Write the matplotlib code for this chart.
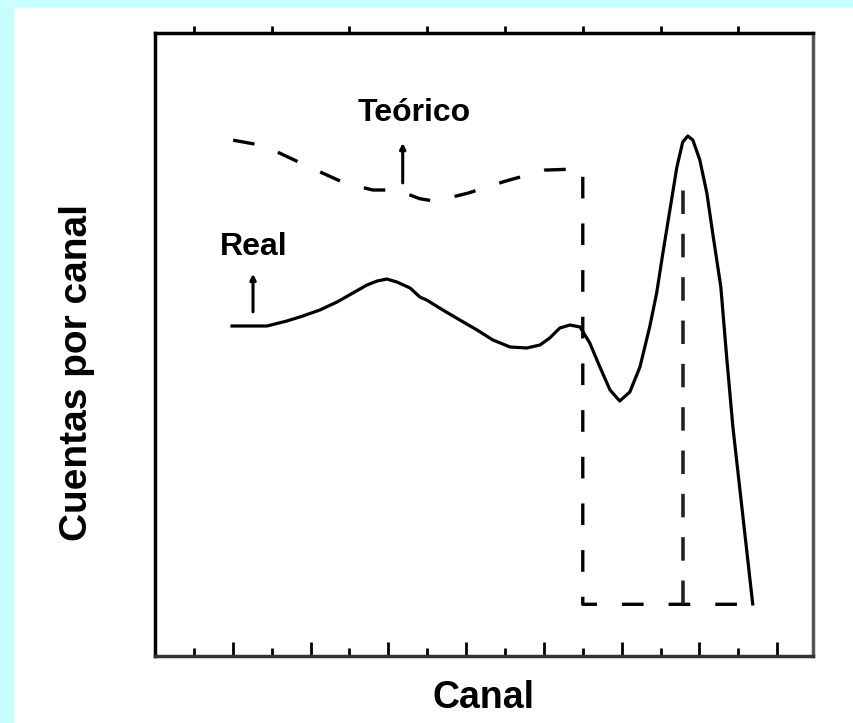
import matplotlib
matplotlib.use('Agg')
import matplotlib.pyplot as plt
from matplotlib.patches import Rectangle

# espectro real (canal, cuentas)
real_x = [1.98, 2.88, 3.39, 3.80, 4.24, 4.68, 5.09, 5.45, 5.71, 5.96, 6.22, 6.56,
          6.81, 6.99, 7.40, 7.84, 8.28, 8.69, 9.13, 9.56, 9.90, 10.15, 10.41,
          10.67, 10.93, 11.18, 11.44, 11.70, 11.95, 12.21, 12.47, 12.72, 12.90,
          13.06, 13.24, 13.42, 13.57, 13.70, 13.83, 14.01, 14.19, 14.34, 14.55,
          14.70, 14.86, 15.37]
real_y = [52.97, 52.97, 53.77, 54.57, 55.54, 56.82, 58.27, 59.55, 60.19, 60.51,
          60.03, 59.07, 57.62, 57.13, 55.54, 53.93, 52.33, 50.72, 49.60, 49.44,
          49.92, 51.04, 52.65, 53.13, 52.81, 50.24, 46.39, 42.70, 40.93, 42.38,
          46.39, 52.81, 58.27, 64.69, 71.59, 78.49, 82.50, 83.47, 82.83, 79.61,
          74.32, 67.90, 59.23, 47.99, 36.76, 8.35]

# espectro teorico
teo_x = [2.01, 2.80, 3.86, 4.88, 5.60, 6.22, 6.81, 7.20, 8.05, 9.00, 10.03, 11.00,
         11.00, 15.37]
teo_y = [82.8, 81.9, 78.8, 75.9, 74.8, 74.8, 73.4, 73.0, 74.3, 76.2, 78.0, 78.2,
         8.3, 8.3]
pico_x = [13.57, 13.57]
pico_y = [8.3, 74.8]

fuente = ['Liberation Sans Narrow', 'Liberation Sans', 'DejaVu Sans']

fig = plt.figure(figsize=(8.54, 7.23), dpi=100, facecolor='#c8ffff')
fig.patches.append(Rectangle((14 / 854, 0), 1, (723 - 7) / 723, transform=fig.transFigure,
                             facecolor='white', edgecolor='none', zorder=-10))
ax = fig.add_axes([155 / 854, 67 / 723, 658 / 854, 623 / 723])
ax.set_facecolor('white')

ax.plot(real_x, real_y, color='black', lw=2.3, solid_joinstyle='round')
ax.plot(teo_x, teo_y, color='black', lw=2.4, dashes=(6.5, 7.5))
ax.plot(pico_x, pico_y, color='#222222', lw=2.6, dashes=(6.5, 5.5))

ax.set_xlim(0, 16.92)
ax.set_ylim(0, 100)

# flechas y etiquetas
ax.annotate('', xy=(6.37, 82.8), xytext=(6.37, 75.5),
            arrowprops=dict(arrowstyle='-|>', color='black', lw=2.2, mutation_scale=8))
ax.annotate('', xy=(2.52, 61.8), xytext=(2.52, 54.8),
            arrowprops=dict(arrowstyle='-|>', color='black', lw=2.2, mutation_scale=8))
ax.text(6.66, 85.9, 'Teórico', ha='center', va='baseline', fontsize=23,
        fontweight='bold', family=fuente)
ax.text(2.55, 64.4, 'Real', ha='center', va='baseline', fontsize=23,
        fontweight='bold', family=fuente)

ax.set_xlabel('Canal', fontsize=27, fontweight='bold', family=fuente, labelpad=17)
ax.set_ylabel('Cuentas por canal', fontsize=28, fontweight='bold',
              family=['Liberation Sans', 'DejaVu Sans'])
ax.yaxis.set_label_coords(-(155 - 95) / 658, 0.455)

# ejes
ax.spines['left'].set_linewidth(2.5)
ax.spines['top'].set_linewidth(2.5)
ax.spines['right'].set_linewidth(2.5)
ax.spines['right'].set_color('#555555')
ax.spines['bottom'].set_linewidth(2.5)
ax.spines['bottom'].set_color('#333333')

ax.set_yticks([])
ax.set_xticks(range(2, 17, 2))
ax.set_xticks(range(1, 17, 2), minor=True)
ax.tick_params(axis='x', which='major', direction='in', length=10, width=2,
               labelbottom=False, top=False)
ax.tick_params(axis='x', which='minor', direction='in', length=6, width=2,
               labelbottom=False)
sec = ax.secondary_xaxis('top')
sec.set_xticks(range(1, 17, 2))
sec.tick_params(direction='out', length=5, width=2, labeltop=False)
sec.spines['top'].set_visible(False)

fig.savefig('out.png', dpi=100, facecolor=fig.get_facecolor())
